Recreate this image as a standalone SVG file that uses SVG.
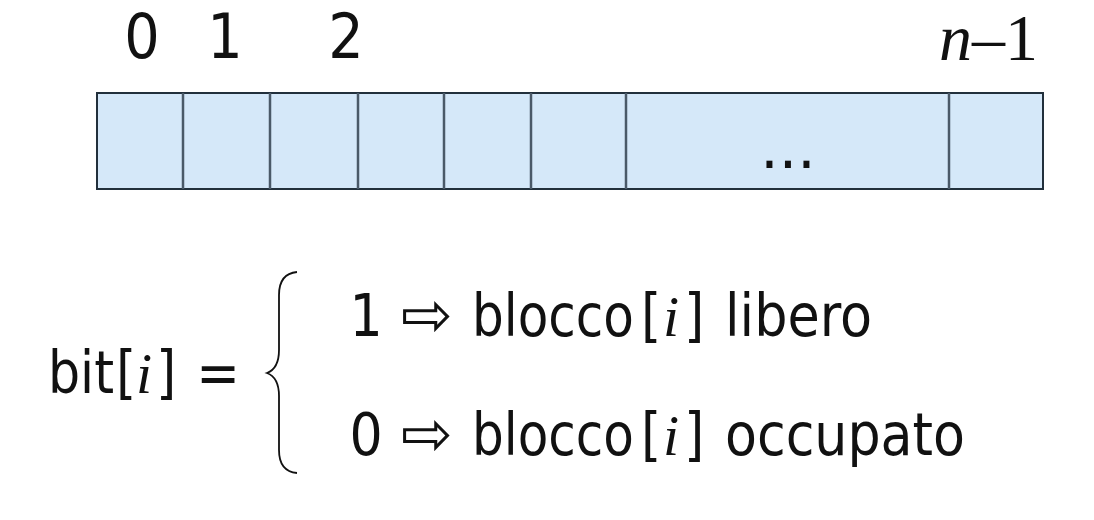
<svg xmlns="http://www.w3.org/2000/svg" width="1094" height="520" viewBox="0 0 1094 520">
<style>
.s{font-family:"DejaVu Sans Condensed","DejaVu Sans",sans-serif;fill:#111}
.m{font-family:"Liberation Serif","Times New Roman",serif;fill:#111}
.a{font-family:"DejaVu Sans",sans-serif;fill:#111}
.cell{fill:#d5e8f9;stroke:#22303c;stroke-width:2}
.div{stroke:#4a5968;stroke-width:2.5}
</style>
<rect width="1094" height="520" fill="#ffffff"/>
<g id="labels">
<text class="s" x="142" y="58" font-size="62" text-anchor="middle">0</text>
<text class="s" x="225" y="58" font-size="62" text-anchor="middle">1</text>
<text class="s" x="346" y="58" font-size="62" text-anchor="middle">2</text>
<text class="m" x="1038" y="60" font-size="66" text-anchor="end"><tspan font-style="italic">n</tspan>–1</text>
</g>
<g id="array">
<rect class="cell" x="97" y="93" width="946" height="96"/>
<line class="div" x1="183" y1="93" x2="183" y2="189"/>
<line class="div" x1="270" y1="93" x2="270" y2="189"/>
<line class="div" x1="358" y1="93" x2="358" y2="189"/>
<line class="div" x1="444" y1="93" x2="444" y2="189"/>
<line class="div" x1="531" y1="93" x2="531" y2="189"/>
<line class="div" x1="626" y1="93" x2="626" y2="189"/>
<line class="div" x1="949" y1="93" x2="949" y2="189"/>
<text class="a" x="788" y="168" font-size="58" text-anchor="middle">...</text>
</g>
<g id="formula">
<text class="s" x="48" y="393" font-size="58" textLength="66" lengthAdjust="spacingAndGlyphs">bit</text>
<text class="s" x="116" y="393" font-size="58">[</text>
<text class="m" x="144" y="393" font-size="58" font-style="italic" text-anchor="middle">i</text>
<text class="s" x="156" y="393" font-size="58">]</text>
<text class="s" x="218" y="393" font-size="58" text-anchor="middle">=</text>
<path d="M297,272 C286,273 279,280 279,295 L279,350 C279,363 275,370 267,373 C275,376 279,383 279,396 L279,450 C279,465 286,472 297,473" fill="none" stroke="#111" stroke-width="1.8"/>
<text class="s" x="366" y="336" font-size="58" text-anchor="middle">1</text>
<text class="a" x="427" y="336" font-size="62" text-anchor="middle">⇨</text>
<text class="s" x="472" y="336" font-size="58" textLength="162" lengthAdjust="spacingAndGlyphs">blocco</text>
<text class="s" x="641" y="336" font-size="58">[</text>
<text class="m" x="671" y="336" font-size="58" font-style="italic" text-anchor="middle">i</text>
<text class="s" x="684" y="336" font-size="58">]</text>
<text class="s" x="725" y="336" font-size="58" textLength="147" lengthAdjust="spacingAndGlyphs">libero</text>
<text class="s" x="366" y="455" font-size="58" text-anchor="middle">0</text>
<text class="a" x="427" y="455" font-size="62" text-anchor="middle">⇨</text>
<text class="s" x="472" y="455" font-size="58" textLength="162" lengthAdjust="spacingAndGlyphs">blocco</text>
<text class="s" x="641" y="455" font-size="58">[</text>
<text class="m" x="671" y="455" font-size="58" font-style="italic" text-anchor="middle">i</text>
<text class="s" x="684" y="455" font-size="58">]</text>
<text class="s" x="725" y="455" font-size="58" textLength="240" lengthAdjust="spacingAndGlyphs">occupato</text>
</g>
</svg>
